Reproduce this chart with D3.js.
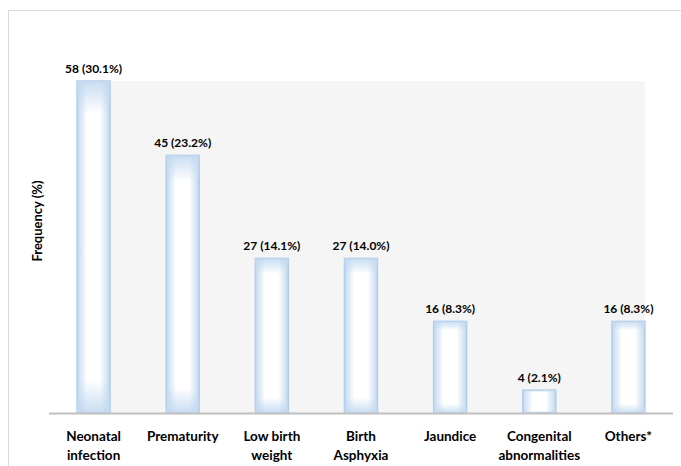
<!DOCTYPE html>
<html>
<head>
<meta charset="utf-8">
<script src="https://cdn.jsdelivr.net/npm/d3@7"></script>
<style>
  body { margin: 0; background: #fff; }
  text { font-family: Lato, "Open Sans", sans-serif; font-weight: bold; fill: #000; }
</style>
</head>
<body>
<svg width="681" height="466"></svg>
<script>
var causes = [["Neonatal", "infection"], ["Prematurity"], ["Low birth", "weight"], ["Birth", "Asphyxia"],
              ["Jaundice"], ["Congenital", "abnormalities"], ["Others*"]];
var counts = [58, 45, 27, 27, 16, 4, 16];
var percents = ["30.1", "23.2", "14.1", "14.0", "8.3", "2.1", "8.3"];

var svg = d3.select("svg");
var plotLeft = 49, plotRight = 673, plotBase = 413, plotTop = 81;

// cadre exterieur
svg.append("line")
   .attr("x1", 8.5).attr("x2", 8.5).attr("y1", 10).attr("y2", 466)
   .attr("stroke", "#d9d9d9");
svg.append("line")
   .attr("x1", 8).attr("x2", 681).attr("y1", 10.5).attr("y2", 10.5)
   .attr("stroke", "#d9d9d9");

var x = d3.scaleBand()
    .domain(d3.range(counts.length))
    .range([plotLeft, plotRight])
    .paddingInner(0.63)
    .paddingOuter(0.315);

var y = d3.scaleLinear()
    .domain([0, d3.max(counts)])
    .range([plotBase, plotTop]);

var defs = svg.append("defs");
var gh = defs.append("linearGradient").attr("id", "gh");
gh.append("stop").attr("offset", "0%").attr("stop-color", "#c2d9f0");
gh.append("stop").attr("offset", "30%").attr("stop-color", "#ffffff");
gh.append("stop").attr("offset", "70%").attr("stop-color", "#ffffff");
gh.append("stop").attr("offset", "100%").attr("stop-color", "#c2d9f0");

var gv = defs.append("linearGradient").attr("id", "gv")
    .attr("x1", 0).attr("y1", 0).attr("x2", 0).attr("y2", 1);
gv.append("stop").attr("offset", "0%").attr("stop-color", "#c2d9f0").attr("stop-opacity", 0.9);
gv.append("stop").attr("offset", "10%").attr("stop-color", "#c2d9f0").attr("stop-opacity", 0);
gv.append("stop").attr("offset", "90%").attr("stop-color", "#c2d9f0").attr("stop-opacity", 0);
gv.append("stop").attr("offset", "100%").attr("stop-color", "#c2d9f0").attr("stop-opacity", 0.9);

// fond gris
svg.append("rect")
   .attr("x", x(0))
   .attr("y", y(d3.max(counts)))
   .attr("width", x(counts.length - 1) + x.bandwidth() - x(0))
   .attr("height", plotBase - y(d3.max(counts)))
   .attr("fill", "#f5f5f5");

var bars = svg.selectAll(".bar").data(counts).enter();

bars.append("rect")
    .attr("x", function(d, i){ return x(i); })
    .attr("y", function(d){ return y(d); })
    .attr("width", x.bandwidth())
    .attr("height", function(d){ return plotBase - y(d); })
    .attr("fill", "url(#gh)")
    .attr("stroke", "#b0cdea")
    .attr("stroke-width", 1.5);

bars.append("rect")
    .attr("x", function(d, i){ return x(i); })
    .attr("y", function(d){ return y(d); })
    .attr("width", x.bandwidth())
    .attr("height", function(d){ return plotBase - y(d); })
    .attr("fill", "url(#gv)");

// etichette valori
bars.append("text")
    .attr("x", function(d, i){ return x(i) + x.bandwidth() / 2; })
    .attr("y", function(d){ return y(d) - 8; })
    .attr("text-anchor", "middle")
    .attr("font-size", "12px")
    .text(function(d, i){ return d + " (" + percents[i] + "%)"; });

// asse x
svg.append("line")
   .attr("x1", plotLeft).attr("x2", plotRight)
   .attr("y1", plotBase + 0.5).attr("y2", plotBase + 0.5)
   .attr("stroke", "#bfbfbf").attr("stroke-width", 2);

causes.forEach(function(c, i){
  var t = svg.append("text")
      .attr("x", x(i) + x.bandwidth() / 2)
      .attr("y", 441)
      .attr("text-anchor", "middle")
      .attr("font-size", "13.5px");
  c.forEach(function(line, j){
    t.append("tspan")
     .attr("x", x(i) + x.bandwidth() / 2)
     .attr("dy", j == 0 ? 0 : 19)
     .text(line);
  });
});

svg.append("text")
   .attr("transform", "translate(42,221) rotate(-90)")
   .attr("text-anchor", "middle")
   .attr("font-size", "13px")
   .text("Frequency (%)");
</script>
</body>
</html>
